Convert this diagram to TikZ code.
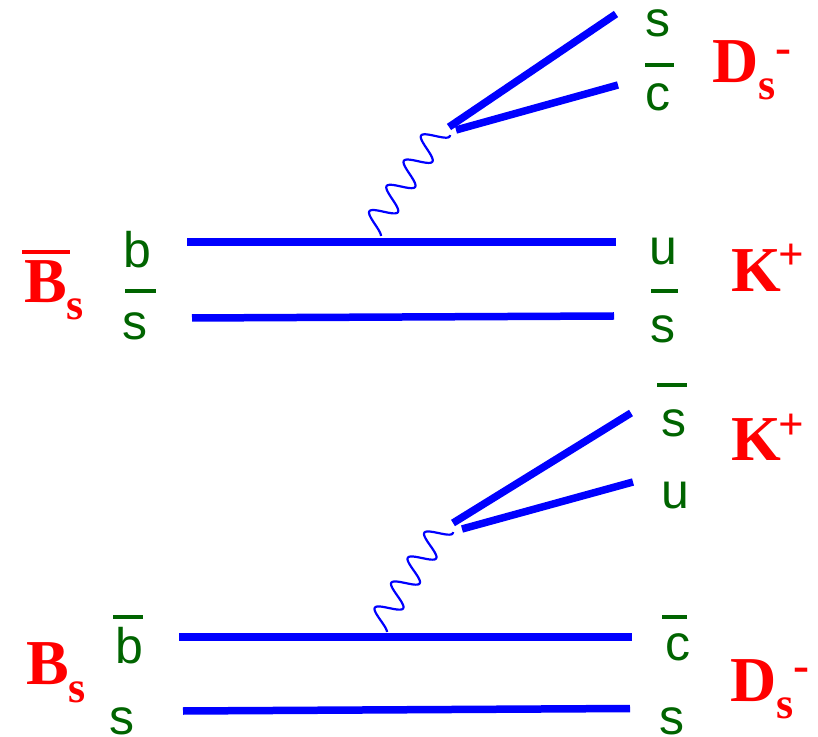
\documentclass[tikz,border=0pt]{standalone}
\usepackage{fontspec}
\newfontfamily\qfont{Liberation Sans}
\newfontfamily\hfont{Liberation Serif}
\definecolor{qgreen}{RGB}{0,100,0}
\definecolor{lblue}{RGB}{0,0,255}
\definecolor{hred}{RGB}{255,0,0}
\tikzset{
  quarkline/.style={draw=lblue, line width=7.5pt},
  wave/.style={draw=lblue, line width=2.2pt},
  quark/.style={text=qgreen, font=\qfont\fontsize{50}{50}\selectfont, inner sep=0pt, anchor=base west},
  hadron/.style={text=hred, font=\hfont\bfseries\fontsize{64}{64}\selectfont, inner sep=0pt, anchor=base west},
  qbar/.style={draw=qgreen, line width=3.2pt},
  hbar/.style={draw=hred, line width=3.2pt}
}
\newcommand{\subs}[2]{\raisebox{-#1pt}{\fontsize{44}{44}\selectfont #2}}
\newcommand{\sups}[3]{\raisebox{#1pt}{\fontsize{#2}{#2}\selectfont #3}}
\begin{document}
\begin{tikzpicture}[x=1pt,y=1pt]
\useasboundingbox (0,0) rectangle (818,736);
% ---------- top diagram ----------
\coordinate (t1a) at (187,494); \coordinate (t1b) at (616,494);
\coordinate (t2a) at (192,418); \coordinate (t2b) at (614,420);
\coordinate (f1a) at (449,609); \coordinate (f1b) at (616,722);
\coordinate (f2a) at (456,606); \coordinate (f2b) at (618,651);
\coordinate (wS1) at (381,500); \coordinate (wE1) at (450,601);
\draw[quarkline] (t1a) -- (t1b);
\draw[quarkline] (t2a) -- (t2b);
\draw[quarkline] (f1a) -- (f1b);
\draw[quarkline] (f2a) -- (f2b);
\begin{scope}[shift={(wS1)}, rotate=55.66]
  \draw[wave] plot[domain=0:122.3, samples=200, smooth, variable=\t] (\t, {12*(sin(11.7744*\t - 73.6)+0.959)});
\end{scope}
% labels top
\node[hadron] (Bsbar) at (24,433) {B\subs{17}{s}};
\draw[hbar] (22,484) -- (70,484);
\node[quark] (qb1) at (123,468) {b};
\node[quark] (qs1) at (122,396) {s};
\draw[qbar] (125,445) -- (156,445);
\node[quark] (qs2) at (645,699) {s};
\draw[qbar] (645,671) -- (674,671);
\node[quark] (qc1) at (645,625) {c};
\node[hadron] (Ds1) at (712,653) {D\subs{17}{s}\sups{19}{48}{-}};
\node[quark] (qu1) at (649,471) {u};
\draw[qbar] (651,445) -- (678,445);
\node[quark] (qs3) at (650,393) {s};
\node[hadron] (K1) at (731,444) {K\kern-2pt\sups{22}{45}{+}};
% ---------- bottom diagram ----------
\coordinate (b1a) at (179,99); \coordinate (b1b) at (632,99);
\coordinate (b2a) at (183,25); \coordinate (b2b) at (630,27.5);
\coordinate (f3a) at (453,213); \coordinate (f3b) at (631,323);
\coordinate (f4a) at (462,207); \coordinate (f4b) at (633,254);
\coordinate (wS2) at (387,104); \coordinate (wE2) at (453,204);
\draw[quarkline] (b1a) -- (b1b);
\draw[quarkline] (b2a) -- (b2b);
\draw[quarkline] (f3a) -- (f3b);
\draw[quarkline] (f4a) -- (f4b);
\begin{scope}[shift={(wS2)}, rotate=56.58]
  \draw[wave] plot[domain=0:119.8, samples=200, smooth, variable=\t] (\t, {12*(sin(12.0200*\t - 73.6)+0.959)});
\end{scope}
% labels bottom
\draw[qbar] (657,351) -- (687,351);
\node[quark] (qs4) at (661,299) {s};
\node[quark] (qu2) at (661,227) {u};
\node[hadron] (K2) at (731,275) {K\kern-2pt\sups{21}{45}{+}};
\draw[qbar] (662,119) -- (687,119);
\node[quark] (qc2) at (665,76) {c};
\node[quark] (qs5) at (659,1.5) {s};
\node[hadron] (Ds2) at (730,35) {D\subs{17}{s}\sups{20}{48}{-}};
\node[hadron] (Bs) at (26,52) {B\subs{18}{s}};
\draw[qbar] (113,119) -- (143,119);
\node[quark] (qb2) at (115,73) {b};
\node[quark] (qs6) at (109,1.5) {s};
\end{tikzpicture}
\end{document}
